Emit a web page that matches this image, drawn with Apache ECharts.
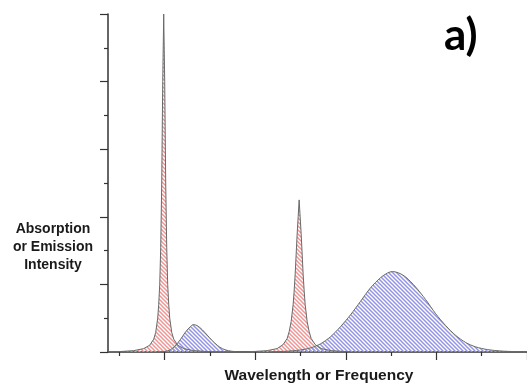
<!DOCTYPE html>
<html>
<head>
<meta charset="utf-8">
<script src="https://cdn.jsdelivr.net/npm/echarts@6/dist/echarts.min.js"></script>
<style>html,body{margin:0;padding:0;background:#fff;}#c{width:527px;height:385px;}</style>
</head>
<body>
<div id="c"></div>
<script>
// x in units of the minor x tick spacing; y in units of the y tick spacing
const redPeak1 = [
  [-0.25, 0.005], [-0.016, 0.01], [0.316, 0.04], [0.538, 0.1], [0.670, 0.2], [0.759, 0.38],
  [0.803, 0.58], [0.847, 1.0], [0.869, 1.4], [0.892, 2.0], [0.914, 3.1], [0.936, 5.0],
  [0.958, 8.0], [0.98, 10], [1.002, 8.0], [1.024, 5.0], [1.046, 3.1], [1.068, 2.0],
  [1.091, 1.4], [1.113, 1.0], [1.157, 0.58], [1.201, 0.38], [1.290, 0.2], [1.422, 0.1],
  [1.644, 0.04], [1.976, 0.01], [2.53, 0.004]
];
const bluePeak1 = [
  [0.80, 0.0], [1.011, 0.02], [1.122, 0.06], [1.232, 0.18], [1.354, 0.38], [1.465, 0.6],
  [1.575, 0.76], [1.631, 0.81], [1.719, 0.78], [1.830, 0.66], [1.940, 0.5], [2.051, 0.34],
  [2.162, 0.2], [2.272, 0.1], [2.405, 0.04], [2.560, 0.01], [2.670, 0.0]
];
const redPeak2 = [
  [2.86, 0.005], [3.262, 0.04], [3.483, 0.1], [3.616, 0.22], [3.705, 0.4], [3.749, 0.6],
  [3.793, 0.9], [3.837, 1.4], [3.859, 1.8], [3.882, 2.3], [3.904, 2.9], [3.926, 3.5],
  [3.948, 4.0], [3.97, 4.5], [3.992, 4.0], [4.014, 3.5], [4.036, 2.9], [4.058, 2.3],
  [4.081, 1.8], [4.103, 1.4], [4.147, 0.9], [4.191, 0.6], [4.235, 0.4], [4.324, 0.22],
  [4.457, 0.1], [4.678, 0.04], [5.076, 0.005]
];
const bluePeak2 = [
  [3.334, 0.005], [3.666, 0.02], [3.998, 0.06], [4.219, 0.12], [4.440, 0.24], [4.661, 0.45],
  [4.883, 0.75], [5.104, 1.1], [5.325, 1.5], [5.546, 1.9], [5.768, 2.2], [5.923, 2.34],
  [6.033, 2.38], [6.166, 2.34], [6.321, 2.22], [6.542, 1.92], [6.763, 1.55], [6.985, 1.13],
  [7.206, 0.78], [7.427, 0.49], [7.648, 0.28], [7.870, 0.15], [8.135, 0.07], [8.423, 0.03],
  [8.754, 0.01], [9.0, 0.0]
];
const xMajorTicks = [1, 3, 5, 7, 9];
const xMinorTicks = [0, 2, 4, 6, 8];
const yLabel = 'Absorption\nor Emission\nIntensity';
const xLabel = 'Wavelength or Frequency';
const panelLabel = 'a)';

function hatch(color) {
  const s = 4;
  const cv = document.createElement('canvas');
  cv.width = s; cv.height = s;
  const ctx = cv.getContext('2d');
  ctx.strokeStyle = color;
  ctx.lineWidth = 1.5;
  ctx.beginPath();
  ctx.moveTo(-1, -1); ctx.lineTo(s + 1, s + 1);
  ctx.moveTo(s - 1, -1); ctx.lineTo(s + 1, 1);
  ctx.moveTo(-1, s - 1); ctx.lineTo(1, s + 1);
  ctx.stroke();
  return { image: cv, repeat: 'repeat' };
}
const redFill = hatch('#ec9696');
const blueFill = hatch('#9494e4');

const chart = echarts.init(document.getElementById('c'), null, { renderer: 'canvas' });
const axisColor = '#333';
function peak(data, fill, smooth) {
  return {
    type: 'line', data: data, showSymbol: false, smooth: smooth,
    lineStyle: { color: '#6a6a6a', width: 1 },
    areaStyle: { color: fill, opacity: 1 },
    silent: true, animation: false
  };
}
chart.setOption({
  animation: false,
  grid: { left: 108, right: 0, top: 14, bottom: 33 },
  xAxis: [
    {
      type: 'value', min: -0.25, max: 9, position: 'bottom',
      axisLine: { show: true, onZero: false, lineStyle: { color: axisColor, width: 1.5 } },
      axisTick: { show: true, length: 8, customValues: xMajorTicks, lineStyle: { color: axisColor, width: 1.2 } },
      axisLabel: { show: false }, splitLine: { show: false }
    },
    {
      type: 'value', min: -0.25, max: 9, position: 'bottom',
      axisLine: { show: false, onZero: false },
      axisTick: { show: true, length: 4, customValues: xMinorTicks, lineStyle: { color: axisColor, width: 1.2 } },
      axisLabel: { show: false }, splitLine: { show: false }
    }
  ],
  yAxis: {
    type: 'value', min: 0, max: 10, interval: 2,
    axisLine: { show: true, onZero: false, lineStyle: { color: axisColor, width: 1.5 } },
    axisTick: { show: true, length: 8, lineStyle: { color: axisColor, width: 1.2 } },
    minorTick: { show: true, splitNumber: 2, length: 4, lineStyle: { color: axisColor, width: 1.2 } },
    axisLabel: { show: false }, splitLine: { show: false }
  },
  series: [
    peak(redPeak1, redFill, false),
    peak(redPeak2, redFill, false),
    peak(bluePeak1, blueFill, 0.3),
    peak(bluePeak2, blueFill, 0.3)
  ],
  graphic: [
    { type: 'text', x: 53, y: 247, style: { text: yLabel, fill: '#1a1a1a', font: 'bold 14px "Liberation Sans", Arial, sans-serif', lineHeight: 18, textAlign: 'center', textVerticalAlign: 'middle' } },
    { type: 'text', x: 319, y: 376, style: { text: xLabel, fill: '#1a1a1a', font: 'bold 15.5px "Liberation Sans", Arial, sans-serif', textAlign: 'center', textVerticalAlign: 'middle' } },
    { type: 'text', x: 444, y: 36, style: { text: panelLabel, fill: '#000', font: 'bold 44px Lato, "Open Sans", sans-serif', textAlign: 'left', textVerticalAlign: 'middle' } }
  ]
});
</script>
</body>
</html>
